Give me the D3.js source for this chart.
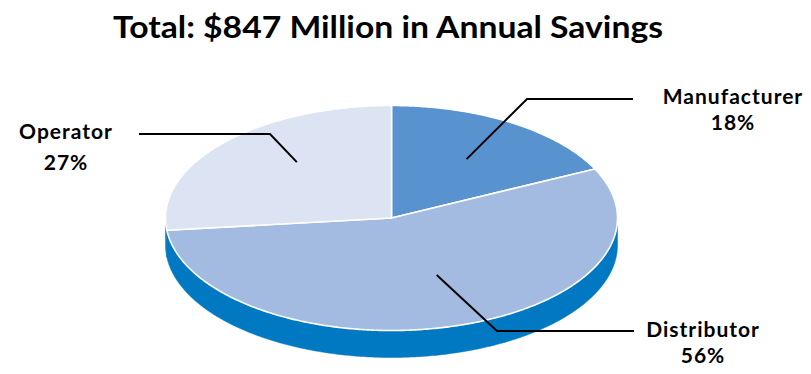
<!DOCTYPE html>
<html>
<head>
<meta charset="utf-8">
<script src="https://cdn.jsdelivr.net/npm/d3@7"></script>
<style>
  body { margin: 0; background: #fff; }
  text { font-family: Lato, "Open Sans", sans-serif; font-weight: bold; fill: #000; }
</style>
</head>
<body>
<div id="chart"></div>
<script>
// Chart data
var categories = ["Manufacturer", "Distributor", "Operator"];
var shares = [18, 56, 27];
var percentLabels = ["18%", "56%", "27%"];
var titleText = "Total: $847 Million in Annual Savings";

// Colours
var topColors = ["#5893cf", "#a3bbe0", "#dce3f2"];
var sideColor = "#0079c2";

// Set up the chart
var svgWidth = 811;
var svgHeight = 374;

var pie3d = {
    cx: 391.5,
    cy: 218,
    rx: 226,
    ry: 112.5,
    depth: 27
};

// Leader line layout per label (anchor: angle offset in degrees + radius fraction)
var labelLayout = [
    { dAngle: 0.3, frac: 0.62, elbow: [527, 99], end: [633, 99], tx: 733, ty: [104, 129.5] },
    { dAngle: -5.5, frac: 0.545, elbow: [497, 331], end: [634, 331], tx: 703, ty: [337, 362.5] },
    { dAngle: 8, frac: 0.65, elbow: [270, 134], end: [139, 134], tx: 66, ty: [139, 170] }
];

var svg = d3.select("#chart")
    .append("svg")
    .attr("width", svgWidth)
    .attr("height", svgHeight);

// Title
svg.append("text")
    .attr("x", 388)
    .attr("y", 38)
    .attr("text-anchor", "middle")
    .style("font-size", "31px")
    .attr("textLength", 550)
    .attr("lengthAdjust", "spacingAndGlyphs")
    .text(titleText);

// Project an angle (radians, clockwise from 12 o'clock) onto the tilted ellipse
function project(a, frac, drop) {
    frac = frac === undefined ? 1 : frac;
    drop = drop || 0;
    return [pie3d.cx + pie3d.rx * frac * Math.sin(a),
            pie3d.cy - pie3d.ry * frac * Math.cos(a) + drop];
}

var arcs = d3.pie().sort(null)(shares);
var line = d3.line();

function arcPoints(a0, a1, drop) {
    var n = Math.max(2, Math.ceil((a1 - a0) / 0.01));
    return d3.range(n + 1).map(function(i) {
        return project(a0 + (a1 - a0) * i / n, 1, drop);
    });
}

// Sides (only the front half, angles between PI/2 and 3PI/2, are visible)
var chartGroup = svg.append("g");

arcs.forEach(function(d, i) {
    var a0 = Math.max(d.startAngle, Math.PI / 2);
    var a1 = Math.min(d.endAngle, 3 * Math.PI / 2);
    if (a1 <= a0) return;
    var topEdge = arcPoints(a0, a1, 0);
    var bottomEdge = arcPoints(a0, a1, pie3d.depth).reverse();
    chartGroup.append("path")
        .attr("d", line(topEdge.concat(bottomEdge)) + "Z")
        .attr("fill", sideColor)
        .attr("stroke", sideColor)
        .attr("stroke-width", 0.5);
});

// Top slices
chartGroup.selectAll("path.slice")
    .data(arcs)
    .enter()
    .append("path")
    .attr("class", "slice")
    .attr("d", function(d) {
        var pts = [[pie3d.cx, pie3d.cy]].concat(arcPoints(d.startAngle, d.endAngle, 0));
        return line(pts) + "Z";
    })
    .attr("fill", function(d, i) { return topColors[i]; })
    .attr("stroke", "#fff")
    .attr("stroke-width", 1.6)
    .attr("stroke-linejoin", "round");

// Leader lines and labels
arcs.forEach(function(d, i) {
    var lay = labelLayout[i];
    var mid = (d.startAngle + d.endAngle) / 2 + lay.dAngle * Math.PI / 180;
    var anchor = project(mid, lay.frac, 0);

    svg.append("path")
        .attr("d", line([anchor, lay.elbow, lay.end]))
        .attr("fill", "none")
        .attr("stroke", "#000")
        .attr("stroke-width", 2);

    svg.append("text")
        .attr("x", lay.tx)
        .attr("y", lay.ty[0])
        .attr("text-anchor", "middle")
        .style("font-size", "21px")
        .style("letter-spacing", "1px")
        .text(categories[i]);

    svg.append("text")
        .attr("x", lay.tx)
        .attr("y", lay.ty[1])
        .attr("text-anchor", "middle")
        .style("font-size", "21px")
        .style("letter-spacing", "1px")
        .text(percentLabels[i]);
});
</script>
</body>
</html>
